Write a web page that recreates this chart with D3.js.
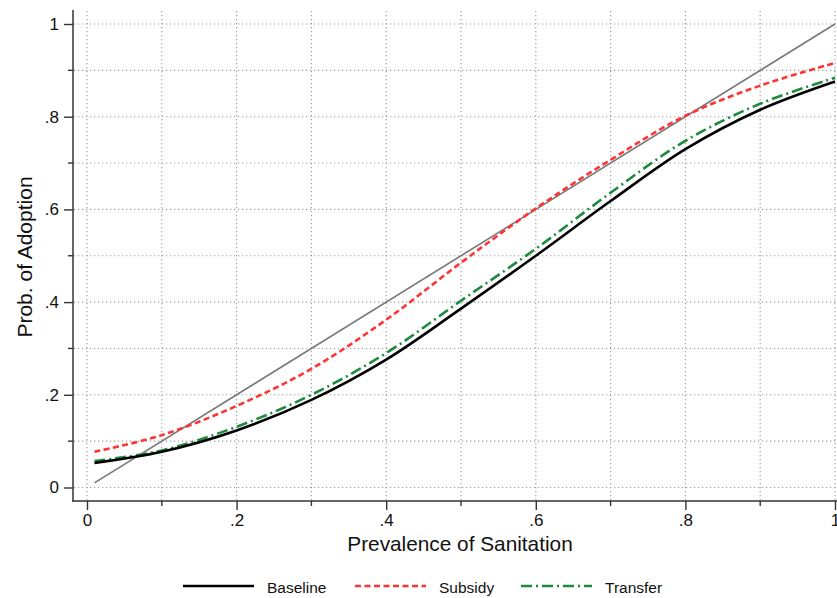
<!DOCTYPE html>
<html>
<head>
<meta charset="utf-8">
<script src="https://cdn.jsdelivr.net/npm/d3@7"></script>
<style>
  body { margin: 0; background: #fff; }
  svg { display: block; font-family: "Liberation Sans", Arial, sans-serif; }
</style>
</head>
<body>
<script>
// x values where the curves were read
let prevalence = [0.01, 0.1, 0.2, 0.3, 0.4, 0.5, 0.6, 0.7, 0.8, 0.9, 1.0];
let baseline = [0.053, 0.077, 0.123, 0.189, 0.276, 0.386, 0.5, 0.618, 0.73, 0.815, 0.876];
let subsidy = [0.077, 0.113, 0.176, 0.256, 0.362, 0.485, 0.602, 0.707, 0.802, 0.867, 0.916];
let transfer = [0.057, 0.08, 0.131, 0.2, 0.29, 0.403, 0.515, 0.636, 0.748, 0.828, 0.884];
let diagonal = [0.01, 1.0];

let majorTicks = [0, 0.2, 0.4, 0.6, 0.8, 1];
let tickLabels = ["0", ".2", ".4", ".6", ".8", "1"];
let gridTicks = [0, 0.1, 0.2, 0.3, 0.4, 0.5, 0.6, 0.7, 0.8, 0.9, 1];
let minorTicks = [0.1, 0.3, 0.5, 0.7, 0.9];

let width = 837;
let height = 598;

// plot box edges (axes) and data scales
let boxLeft = 73, boxRight = 849, boxTop = 10, boxBottom = 501;
let x = d3.scaleLinear().domain([0, 1]).range([87, 835]);
let y = d3.scaleLinear().domain([0, 1]).range([487.5, 24]);

let svg = d3.select("body").append("svg")
  .attr("width", width)
  .attr("height", height);

// dotted grid
let grid = svg.append("g").attr("class", "grid")
  .attr("stroke", "#9a9a9a")
  .attr("stroke-width", 1.1)
  .attr("stroke-dasharray", "1.2,2.8");

grid.selectAll(".vgrid")
  .data(gridTicks)
  .enter()
  .append("line")
  .attr("x1", (d) => x(d))
  .attr("x2", (d) => x(d))
  .attr("y1", boxTop + 1)
  .attr("y2", boxBottom - 1);

grid.selectAll(".hgrid")
  .data(gridTicks)
  .enter()
  .append("line")
  .attr("y1", (d) => y(d))
  .attr("y2", (d) => y(d))
  .attr("x1", boxLeft + 1)
  .attr("x2", boxRight);

// axes
let xAxis = svg.append("g")
  .attr("transform", "translate(0," + boxBottom + ")")
  .call(d3.axisBottom(x).tickValues(majorTicks)
    .tickFormat((d, i) => tickLabels[i]).tickSize(9).tickPadding(6));

let yAxis = svg.append("g")
  .attr("transform", "translate(" + boxLeft + ",0)")
  .call(d3.axisLeft(y).tickValues(majorTicks)
    .tickFormat((d, i) => tickLabels[i]).tickSize(9).tickPadding(5));

[xAxis, yAxis].forEach((g) => {
  g.select(".domain").remove();
  g.selectAll(".tick line").attr("stroke", "#333").attr("stroke-width", 1.4);
  g.selectAll(".tick text")
    .attr("fill", "#111")
    .style("font-size", "17px")
    .style("font-family", "'Liberation Sans', Arial, sans-serif");
});

// shift x labels so baseline sits around y=528
xAxis.selectAll(".tick text").attr("y", 13);

// minor ticks
svg.append("g")
  .selectAll("line")
  .data(minorTicks)
  .enter()
  .append("line")
  .attr("x1", (d) => x(d))
  .attr("x2", (d) => x(d))
  .attr("y1", boxBottom)
  .attr("y2", boxBottom + 5)
  .attr("stroke", "#333")
  .attr("stroke-width", 1.4);

svg.append("g")
  .selectAll("line")
  .data(minorTicks)
  .enter()
  .append("line")
  .attr("y1", (d) => y(d))
  .attr("y2", (d) => y(d))
  .attr("x1", boxLeft)
  .attr("x2", boxLeft - 5)
  .attr("stroke", "#333")
  .attr("stroke-width", 1.4);

// axis lines
svg.append("line")
  .attr("x1", boxLeft).attr("x2", boxLeft)
  .attr("y1", boxTop).attr("y2", boxBottom + 0.7)
  .attr("stroke", "#333").attr("stroke-width", 1.5);
svg.append("line")
  .attr("x1", boxLeft - 0.7).attr("x2", boxRight)
  .attr("y1", boxBottom).attr("y2", boxBottom)
  .attr("stroke", "#333").attr("stroke-width", 1.5);

// axis titles
svg.append("text")
  .attr("x", 460)
  .attr("y", 551)
  .attr("text-anchor", "middle")
  .attr("fill", "#111")
  .style("font-size", "20.8px")
  .text("Prevalence of Sanitation");

svg.append("text")
  .attr("transform", "translate(32," + 257 + ") rotate(-90)")
  .attr("text-anchor", "middle")
  .attr("fill", "#111")
  .style("font-size", "21px")
  .text("Prob. of Adoption");

// curves
let series = [
  { name: "Baseline", values: baseline, color: "#000000", dash: null, width: 2.6 },
  { name: "Subsidy", values: subsidy, color: "#ff3333", dash: "6,3.5", width: 2.6 },
  { name: "Transfer", values: transfer, color: "#1e8a3c", dash: "11,4,2,4", width: 2.6 },
];

let line = d3.line()
  .x((d) => x(d[0]))
  .y((d) => y(d[1]))
  .curve(d3.curveCatmullRom.alpha(0.5));

// 45 degree reference line
svg.append("path")
  .datum(diagonal.map((d) => [d, d]))
  .attr("d", line)
  .attr("fill", "none")
  .attr("stroke", "#777")
  .attr("stroke-width", 1.6);

svg.selectAll(".curve")
  .data(series.slice().reverse())
  .enter()
  .append("path")
  .attr("class", "curve")
  .attr("d", (s) => line(prevalence.map((p, i) => [p, s.values[i]])))
  .attr("fill", "none")
  .attr("stroke", (s) => s.color)
  .attr("stroke-width", (s) => s.width)
  .attr("stroke-dasharray", (s) => s.dash);

// legend
let legendX = [183, 355, 521];
let legend = svg.selectAll(".legend")
  .data(series)
  .enter()
  .append("g")
  .attr("class", "legend")
  .attr("transform", (s, i) => "translate(" + legendX[i] + ",586)");

legend.append("line")
  .attr("x1", 0)
  .attr("x2", 71)
  .attr("stroke", (s) => s.color)
  .attr("stroke-width", (s) => s.width)
  .attr("stroke-dasharray", (s) => s.dash);

legend.append("text")
  .attr("x", 84)
  .attr("y", 7)
  .attr("fill", "#111")
  .style("font-size", "15.5px")
  .text((s) => s.name);
</script>
</body>
</html>
